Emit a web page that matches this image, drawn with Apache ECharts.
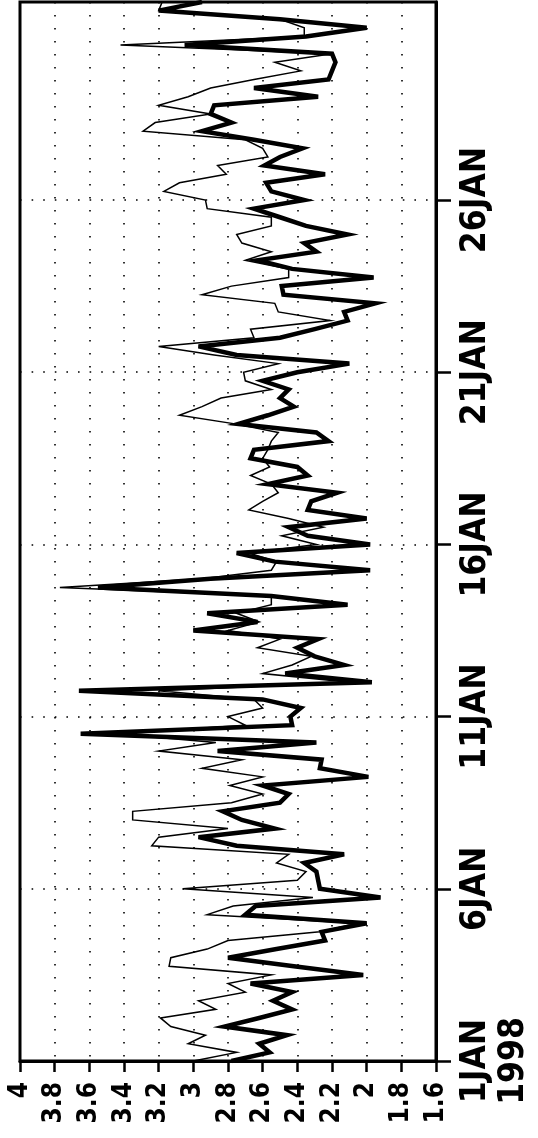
<!DOCTYPE html>
<html>
<head>
<meta charset="utf-8">
<script src="https://cdn.jsdelivr.net/npm/echarts@6/dist/echarts.min.js"></script>
<style>
  html, body { margin: 0; padding: 0; background: #fff; }
  #chart { width: 538px; height: 1138px; }
</style>
</head>
<body>
<div id="chart"></div>
<script>
// Six-hourly samples, 1 JAN 1998 00Z to 31 JAN 1998 18Z
const month = 'JAN';
const year = '1998';
const hoursPerStep = 6;
const labelEveryDays = 5;

// Thin trace
const thinValues = [
  3.00, 2.75, 3.03, 2.93, 3.13, 3.19, 2.87, 2.97, 2.70, 2.80,
  2.55, 3.14, 3.13, 2.92, 2.80, 2.27, 2.05, 2.92, 2.77, 2.31,
  3.06, 2.40, 2.35, 2.52, 2.45, 3.24, 3.20, 2.80, 3.35, 3.35,
  2.78, 2.60, 2.79, 2.60, 2.95, 2.72, 3.20, 2.87, 3.45, 2.70,
  2.80, 2.60, 2.65, 3.20, 2.10, 2.60, 2.43, 2.32, 2.63, 2.50,
  2.80, 2.62, 2.75, 2.55, 2.55, 3.77, 2.95, 2.55, 2.52, 2.68,
  2.29, 2.49, 2.25, 2.45, 2.68, 2.60, 2.51, 2.55, 2.67, 2.56,
  2.60, 2.57, 2.55, 2.51, 2.76, 3.08, 2.95, 2.84, 2.55, 2.70,
  2.71, 2.51, 2.88, 3.20, 2.65, 2.67, 2.21, 2.51, 2.53, 2.95,
  2.78, 2.45, 2.45, 2.70, 2.55, 2.72, 2.75, 2.55, 2.55, 2.92,
  2.93, 3.17, 3.08, 2.81, 2.86, 2.57, 2.60, 2.70, 3.29, 3.22,
  2.90, 3.20, 3.03, 2.90, 2.65, 2.38, 2.53, 2.20, 3.42, 2.36,
  2.36, 2.50, 3.20, 3.18
];

// Thick trace
const thickValues = [
  2.78, 2.56, 2.62, 2.46, 2.82, 2.62, 2.43, 2.54, 2.43, 2.67,
  2.02, 2.42, 2.80, 2.52, 2.24, 2.26, 2.00, 2.70, 2.64, 1.92,
  2.27, 2.28, 2.29, 2.36, 2.13, 2.75, 2.97, 2.53, 2.72, 2.83,
  2.50, 2.45, 2.60, 1.99, 2.27, 2.26, 2.86, 2.29, 3.65, 2.43,
  2.44, 2.38, 2.60, 3.66, 1.97, 2.47, 2.13, 2.30, 2.40, 2.28,
  3.00, 2.63, 2.92, 2.11, 2.55, 3.55, 2.90, 1.98, 2.53, 2.75,
  1.98, 2.34, 2.45, 2.00, 2.34, 2.32, 2.17, 2.57, 2.34, 2.40,
  2.67, 2.65, 2.22, 2.29, 2.74, 2.57, 2.42, 2.50, 2.45, 2.60,
  2.40, 2.10, 2.75, 2.97, 2.50, 2.30, 2.11, 2.13, 1.95, 2.48,
  2.49, 1.96, 2.43, 2.63, 2.29, 2.36, 2.11, 2.35, 2.50, 2.65,
  2.36, 2.55, 2.58, 2.24, 2.59, 2.50, 2.37, 2.65, 2.95, 2.78,
  2.90, 2.88, 2.28, 2.65, 2.22, 2.20, 2.18, 2.20, 3.05, 2.35,
  2.00, 2.50, 3.20, 2.95
];

// Value axis range and step
const valueMin = 1.6;
const valueMax = 4;
const valueStep = 0.2;

// Time categories, one per sample: day and hour
const stepsPerDay = 24 / hoursPerStep;
const timeCategories = thinValues.map((_, i) => {
  const day = 1 + Math.floor(i / stepsPerDay);
  const hour = (i % stepsPerDay) * hoursPerStep;
  return day + month + (hour < 10 ? '0' : '') + hour;
});

const isDayTick = (index) =>
  index % (stepsPerDay * labelEveryDays) === 0 && index < timeCategories.length - stepsPerDay * 2;

const labelFont = '"Liberation Sans Narrow", "DejaVu Sans Condensed", "Liberation Sans", Arial, sans-serif';

const chart = echarts.init(document.getElementById('chart'), null, { renderer: 'canvas' });

chart.setOption({
  animation: false,
  backgroundColor: '#fff',
  grid: {
    left: 20, right: 102, top: 2, bottom: 77,
    show: true, borderColor: '#000', borderWidth: 3, backgroundColor: 'transparent'
  },
  xAxis: {
    type: 'value',
    min: valueMin, max: valueMax, interval: valueStep,
    inverse: true,
    position: 'bottom',
    axisLine: { show: true, lineStyle: { color: '#000', width: 3 } },
    axisTick: { show: true, inside: false, length: 11, lineStyle: { color: '#000', width: 2.5 } },
    axisLabel: {
      rotate: 90, margin: 21, color: '#000',
      fontFamily: labelFont, fontWeight: 'bold', fontSize: 26,
      formatter: (v) => String(+v.toFixed(1))
    },
    splitLine: { show: true, lineStyle: { color: '#000', width: 1.6, type: [1.6, 11.4] } }
  },
  yAxis: {
    type: 'category',
    data: timeCategories,
    boundaryGap: false,
    position: 'right',
    axisLine: { show: true, lineStyle: { color: '#000', width: 3 } },
    axisTick: { show: true, inside: false, length: 15, interval: (i) => isDayTick(i),
      lineStyle: { color: '#000', width: 2.5 } },
    axisLabel: {
      rotate: 90, margin: 21, color: '#000', interval: (i) => isDayTick(i),
      fontFamily: labelFont, fontWeight: 'bold', fontSize: 35, lineHeight: 38,
      formatter: (value, index) => {
        const day = 1 + Math.floor(index / stepsPerDay);
        return index === 0 ? day + month + '\n' + year : day + month;
      }
    },
    splitLine: { show: true, interval: (i) => isDayTick(i),
      lineStyle: { color: '#000', width: 1.6, type: [1.6, 10] } }
  },
  series: [
    {
      name: 'thin', type: 'line', data: thinValues.map((v, i) => [v, timeCategories[i]]),
      showSymbol: false, symbol: 'none',
      lineStyle: { color: '#000', width: 1.5, join: 'miter', miterLimit: 8 },
      z: 2
    },
    {
      name: 'thick', type: 'line', data: thickValues.map((v, i) => [v, timeCategories[i]]),
      showSymbol: false, symbol: 'none',
      lineStyle: { color: '#000', width: 4.5, join: 'miter', miterLimit: 6 },
      z: 3
    }
  ]
});
</script>
</body>
</html>
